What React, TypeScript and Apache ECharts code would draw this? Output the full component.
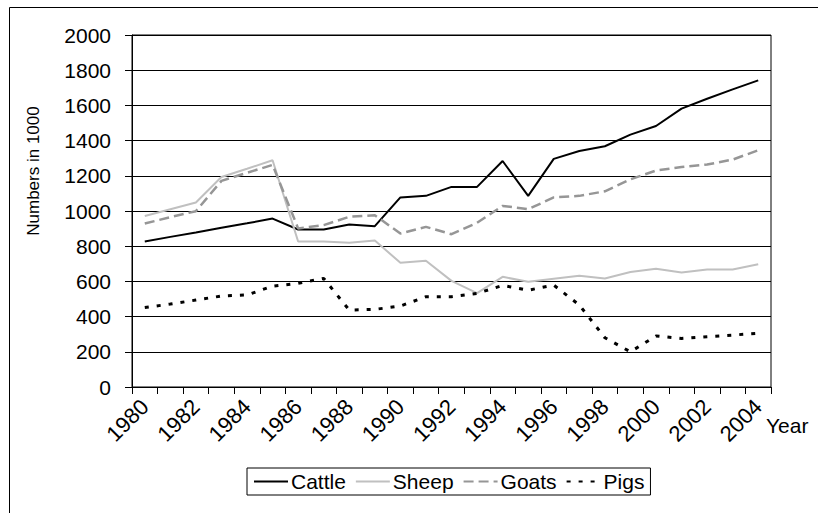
import React, { useEffect, useRef } from "react";
import * as echarts from "echarts";

const years = [
  "1980", "1981", "1982", "1983", "1984", "1985", "1986", "1987", "1988", "1989",
  "1990", "1991", "1992", "1993", "1994", "1995", "1996", "1997", "1998", "1999",
  "2000", "2001", "2002", "2003", "2004",
];
const cattle = [827, 853, 878, 905, 930, 957, 895, 895, 923, 914, 1077, 1086, 1137, 1137, 1284, 1086, 1296, 1341, 1368, 1434, 1483, 1582, 1638, 1691, 1742];
const sheep = [972, 1010, 1048, 1193, 1240, 1288, 827, 827, 819, 832, 706, 717, 603, 533, 626, 598, 615, 632, 617, 653, 672, 651, 668, 668, 698];
const goats = [929, 965, 999, 1171, 1217, 1262, 901, 920, 967, 976, 872, 910, 868, 933, 1029, 1010, 1077, 1086, 1112, 1180, 1230, 1250, 1264, 1292, 1345];
const pigs = [452, 471, 494, 517, 523, 573, 589, 617, 437, 441, 460, 513, 513, 532, 577, 550, 579, 466, 280, 200, 290, 276, 286, 295, 305];

const FONT = "Liberation Sans, Arial, sans-serif";

export default function App() {
  const ref = useRef<HTMLDivElement>(null);
  useEffect(() => {
    if (!ref.current) return;
    const chart = echarts.init(ref.current, null, { renderer: "svg" });
    chart.setOption({
      animation: false,
      backgroundColor: "#fff",
      textStyle: { fontFamily: FONT },
      grid: {
        left: 132, top: 35, width: 639, height: 352,
        show: true, borderColor: "#000", borderWidth: 1, backgroundColor: "transparent",
      },
      xAxis: {
        type: "category",
        data: years,
        boundaryGap: true,
        axisLine: { lineStyle: { color: "#000", width: 1 } },
        axisTick: { show: true, interval: 0, length: 7, lineStyle: { color: "#000" } },
        axisLabel: { interval: 1, rotate: 45, fontSize: 22, color: "#000", margin: 16, fontFamily: FONT },
        splitLine: { show: false },
      },
      yAxis: {
        type: "value",
        min: 0, max: 2000, interval: 200,
        axisLine: { show: true, lineStyle: { color: "#000", width: 1 } },
        axisTick: { show: true, length: 7, lineStyle: { color: "#000" } },
        axisLabel: { fontSize: 21, color: "#000", margin: 21, fontFamily: FONT, formatter: (v: number) => String(v) },
        splitLine: { show: true, lineStyle: { color: "#000", width: 1 } },
      },
      legend: {
        left: 247, top: 468,
        orient: "horizontal",
        borderColor: "#000", borderWidth: 1,
        padding: [3, 6, 3, 6],
        itemWidth: 34, itemHeight: 14, itemGap: 9,
        itemStyle: { opacity: 0 },
        textStyle: { fontSize: 21, color: "#000", fontFamily: FONT, padding: [0, 0, 0, -2] },
        data: ["Cattle", "Sheep", "Goats", "Pigs"],
      },
      graphic: [
        {
          type: "rect", silent: true,
          shape: { x: 9.5, y: 7.5, width: 830, height: 530 },
          style: { fill: "none", stroke: "#000", lineWidth: 1 },
        },
        {
          type: "text", x: 33, y: 171, rotation: Math.PI / 2,
          style: { text: "Numbers in 1000", fontSize: 17, fill: "#000", fontFamily: FONT, align: "center", verticalAlign: "middle" },
        },
        {
          type: "text", x: 766, y: 425,
          style: { text: "Year", fontSize: 21, fill: "#000", fontFamily: FONT, align: "left", verticalAlign: "middle" },
        },
      ],
      series: [
        { name: "Cattle", type: "line", data: cattle, symbol: "none", lineStyle: { color: "#000", width: 2 }, itemStyle: { color: "#000" } },
        { name: "Sheep", type: "line", data: sheep, symbol: "none", lineStyle: { color: "#c0c0c0", width: 2 }, itemStyle: { color: "#c0c0c0" } },
        { name: "Goats", type: "line", data: goats, symbol: "none", lineStyle: { color: "#969696", width: 2.5, type: [10, 5] }, itemStyle: { color: "#969696" } },
        { name: "Pigs", type: "line", data: pigs, symbol: "none", lineStyle: { color: "#000", width: 3, type: [4, 8] }, itemStyle: { color: "#000" } },
      ],
    });
    return () => chart.dispose();
  }, []);
  return <div ref={ref} style={{ position: "fixed", left: 0, top: 0, width: 818, height: 513 }} />;
}
